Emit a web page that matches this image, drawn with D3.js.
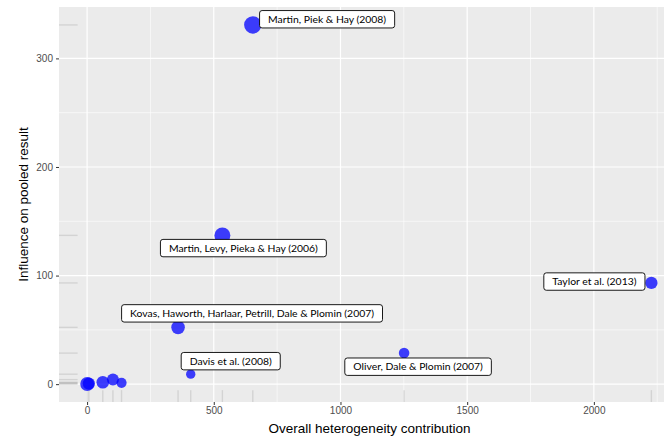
<!DOCTYPE html>
<html>
<head>
<meta charset="utf-8">
<script src="https://cdn.jsdelivr.net/npm/d3@7"></script>
<style>
  html, body { margin: 0; padding: 0; background: #ffffff; }
  svg { display: block; }
</style>
</head>
<body>
<svg id="chart" width="664" height="439"></svg>
<script>
// Baujat-style diagnostic: each study's contribution to heterogeneity
// against its influence on the pooled result, point size by study weight.
const studies = [
  "", "", "", "", "",
  "Kovas, Haworth, Harlaar, Petrill, Dale & Plomin (2007)",
  "Davis et al. (2008)",
  "Martin, Levy, Pieka & Hay (2006)",
  "Martin, Piek & Hay (2008)",
  "Oliver, Dale & Plomin (2007)",
  "Taylor et al. (2013)"
];
const heterogeneity = [0.5, 7, 62, 102, 136, 359, 409, 534, 654, 1251, 2227];
const influence     = [0.1, 0.5, 1.8, 4.2, 1.2, 52.3, 9.2, 137, 330.8, 28.6, 93.2];
const weights       = [49, 38, 40, 36, 26, 46, 22, 64, 76, 28, 38];

const xTicks = [0, 500, 1000, 1500, 2000];
const yTicks = [0, 100, 200, 300];
const xMinor = [250, 750, 1250, 1750, 2250];
const yMinor = [50, 150, 250];

// label box placement, offset from the point in pixels
const labelShift = [
  null, null, null, null, null,
  [74, -14], [40, -13], [21, 12.7], [74.3, -5.7], [14, 13.6], [-57, -1.4]
];

const svg = d3.select("#chart");
const panel = { left: 59, top: 7, right: 679.6, bottom: 402 };

function expand(values) {
  const [lo, hi] = d3.extent(values);
  const pad = (hi - lo) * 0.05;
  return [lo - pad, hi + pad];
}

const x = d3.scaleLinear().domain(expand(heterogeneity)).range([panel.left, panel.right]);
const y = d3.scaleLinear().domain(expand(influence)).range([panel.bottom, panel.top]);
const r = d3.scaleSqrt().domain([0, d3.max(weights)]).range([0, 8.7]);

const data = studies.map((s, i) => ({
  study: s, x: heterogeneity[i], y: influence[i], w: weights[i], shift: labelShift[i]
}));

// panel background and grid
svg.append("rect")
  .attr("x", panel.left).attr("y", panel.top)
  .attr("width", panel.right - panel.left).attr("height", panel.bottom - panel.top)
  .attr("fill", "#ebebeb");

const grid = svg.append("g");
grid.selectAll(".xminor").data(xMinor).join("line")
  .attr("x1", d => x(d)).attr("x2", d => x(d))
  .attr("y1", panel.top).attr("y2", panel.bottom)
  .attr("stroke", "#ffffff").attr("stroke-width", 0.6);
grid.selectAll(".yminor").data(yMinor).join("line")
  .attr("y1", d => y(d)).attr("y2", d => y(d))
  .attr("x1", panel.left).attr("x2", panel.right)
  .attr("stroke", "#ffffff").attr("stroke-width", 0.6);
grid.selectAll(".xmajor").data(xTicks).join("line")
  .attr("x1", d => x(d)).attr("x2", d => x(d))
  .attr("y1", panel.top).attr("y2", panel.bottom)
  .attr("stroke", "#ffffff").attr("stroke-width", 1.2);
grid.selectAll(".ymajor").data(yTicks).join("line")
  .attr("y1", d => y(d)).attr("y2", d => y(d))
  .attr("x1", panel.left).attr("x2", panel.right)
  .attr("stroke", "#ffffff").attr("stroke-width", 1.2);

// rugs along both axes
const rugX = (panel.bottom - panel.top) * 0.03;
const rugY = (panel.right - panel.left) * 0.03;
const rug = svg.append("g").attr("stroke", "#000").attr("stroke-opacity", 0.1).attr("stroke-width", 1.4);
rug.selectAll(".rx").data(data).join("line")
  .attr("x1", d => x(d.x)).attr("x2", d => x(d.x))
  .attr("y1", panel.bottom).attr("y2", panel.bottom - rugX);
rug.selectAll(".ry").data(data).join("line")
  .attr("y1", d => y(d.y)).attr("y2", d => y(d.y))
  .attr("x1", panel.left).attr("x2", panel.left + rugY);

// points
svg.append("g").selectAll("circle").data(data).join("circle")
  .attr("cx", d => x(d.x)).attr("cy", d => y(d.y))
  .attr("r", d => r(d.w))
  .attr("fill", "#0000ff").attr("fill-opacity", 0.75);

// axes
const xAxis = svg.append("g")
  .attr("transform", `translate(0,${panel.bottom})`)
  .call(d3.axisBottom(x).tickValues(xTicks).tickSize(3).tickPadding(2).tickFormat(d3.format("d")));
const yAxis = svg.append("g")
  .attr("transform", `translate(${panel.left},0)`)
  .call(d3.axisLeft(y).tickValues(yTicks).tickSize(3).tickPadding(3).tickFormat(d3.format("d")));
[xAxis, yAxis].forEach(a => {
  a.select(".domain").remove();
  a.selectAll(".tick line").attr("stroke", "#333333").attr("stroke-width", 1);
  a.selectAll(".tick text")
    .attr("fill", "#4d4d4d")
    .style("font-family", "'Liberation Sans', Arial, sans-serif")
    .style("font-size", "10px");
});

svg.append("text")
  .attr("x", 369.5)
  .attr("y", 433)
  .attr("text-anchor", "middle")
  .style("font-family", "'Liberation Sans', Arial, sans-serif")
  .style("font-size", "13.5px")
  .attr("fill", "#000")
  .text("Overall heterogeneity contribution");

svg.append("text")
  .attr("transform", `translate(28,${(panel.top + panel.bottom) / 2}) rotate(-90)`)
  .attr("text-anchor", "middle")
  .style("font-family", "'Liberation Sans', Arial, sans-serif")
  .style("font-size", "13.5px")
  .attr("fill", "#000")
  .text("Influence on pooled result");

// study labels
const labels = svg.append("g").selectAll("g")
  .data(data.filter(d => d.study))
  .join("g")
  .attr("transform", d => `translate(${x(d.x) + d.shift[0]},${y(d.y) + d.shift[1]})`);

labels.append("text")
  .attr("text-anchor", "middle")
  .attr("dy", "0.35em")
  .style("font-family", "Lato, 'Open Sans', sans-serif")
  .style("font-size", "10.4px")
  .attr("fill", "#000")
  .text(d => d.study);

labels.each(function () {
  const g = d3.select(this);
  const w = g.select("text").node().getComputedTextLength();
  g.insert("rect", "text")
    .attr("x", -w / 2 - 8.5).attr("y", -8.7)
    .attr("width", w + 17).attr("height", 17.4)
    .attr("rx", 2.5)
    .attr("fill", "#ffffff").attr("stroke", "#000").attr("stroke-width", 0.9);
});
</script>
</body>
</html>
